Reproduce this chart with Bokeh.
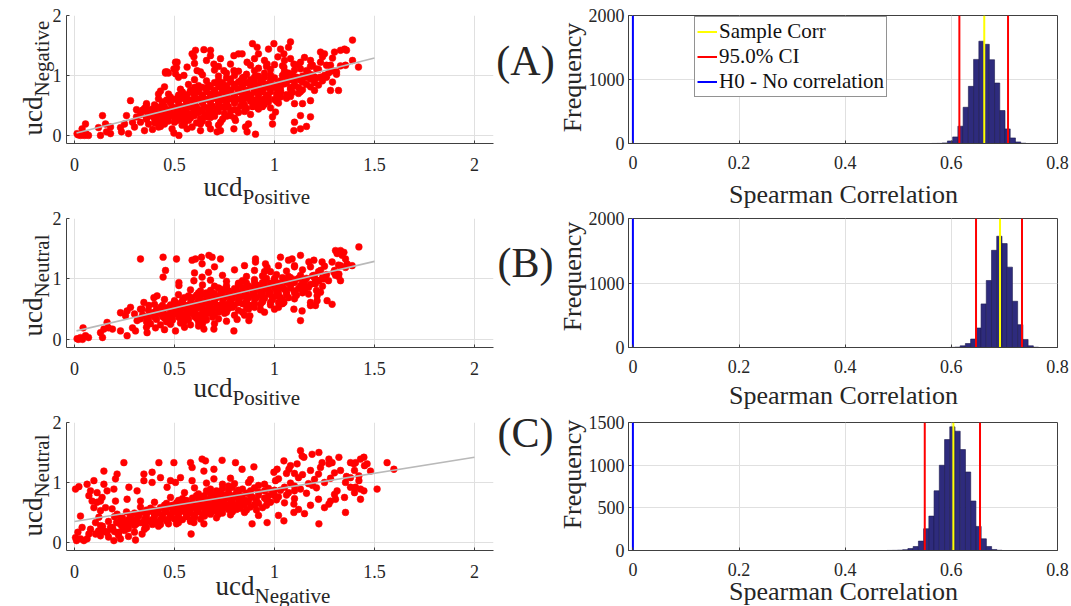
from math import pi
from bokeh.plotting import figure
from bokeh.layouts import column, row
from bokeh.models import (Range1d, FixedTicker, CustomJSTickFormatter, Label,
                          Legend, LegendItem)
from bokeh.embed import file_html
from bokeh.resources import INLINE

# ---------------- data ----------------
# Panel A: ucd_Positive (x) vs ucd_Negative (y)
A_edge_pts = [
    (0.017,0.01),(0.038,0.11),(0.055,0.19),(0.07,0.0),(0.05,0.0),(0.013,0.03),(0.03,0.0),(0.06,0.02),
    (0.12,0.13),(0.14,0.33),(0.13,0.0),(0.155,0.19),(0.16,0.06),(0.18,0.03),(0.18,0.14),(0.23,0.13),
    (0.235,0.06),(0.25,0.19),(0.26,0.33),(0.27,0.03),(0.28,0.58),(0.29,0.22),(0.30,0.14),(0.31,0.31),
    (0.33,0.22),(0.34,0.42),(0.35,0.08),(0.36,0.29),(0.36,0.5),(0.37,0.19),(0.38,0.42),(0.39,0.10),
    (0.40,0.28),(0.41,0.47),(0.42,0.14),(0.42,0.69),(0.43,0.74),(0.44,0.25),(0.45,0.81),(0.455,1.06),
    (0.47,1.04),(0.505,1.22),(0.51,1.13),(0.52,0.97),
    (1.39,1.59),(1.35,1.44),(1.36,1.42),(1.33,1.42),(1.30,1.39),(1.29,1.29),(1.25,1.36),(1.24,1.31),
    (1.23,1.39),(1.42,1.14),(1.39,1.25),(1.355,1.17),(1.31,1.06),(1.32,0.75),(1.28,0.75),(1.29,0.89),
    (1.26,0.97),(1.2,0.97),(1.21,1.11),(1.2,0.75),(1.18,0.58),(1.18,0.31),(1.16,0.15),(1.13,0.11),
    (1.097,0.08),(1.13,0.33),(1.14,0.53),(1.1,0.53),(1.1,0.22),(1.08,1.56),(1.07,1.47),(1.047,1.36),
    (1.03,1.44),(1.017,1.31),(0.997,1.53),(0.97,1.44),(0.963,1.19),(1.013,0.78),(1.005,0.39),(0.99,0.31),
    (0.99,0.19),(0.947,0.53),(0.93,0.58),(0.913,0.47),(0.905,0.02),(0.87,0.19),(0.863,0.06),(0.855,0.14),
    (0.797,0.11),(0.805,0.25),(0.813,0.42),(0.78,0.33),(0.73,0.08),(0.713,0.06),(0.72,0.17),(0.68,0.11),
    (0.663,0.31),(0.63,0.08),(0.63,0.19),(0.588,0.14),(0.563,0.11),(0.522,0.0),(0.497,0.04),(0.488,0.11),
    (0.538,0.17),(0.513,0.25),(0.463,0.25),(0.43,0.15),(0.413,0.22),
    (0.89,1.53),(0.913,1.47),(0.92,1.36),(0.9,1.28),(0.863,1.22),(0.838,1.36),(0.82,1.36),(0.797,1.33),
    (0.78,1.19),(0.73,1.28),(0.697,1.19),(0.68,1.42),(0.68,1.33),(0.647,1.43),(0.588,1.36),(0.605,1.42),
    (0.597,1.31),(0.613,1.08),(0.563,1.14),(0.513,1.22),(0.497,1.11),(0.463,1.06),(0.455,1.04),(0.505,1.03),
    (0.547,1.0),(0.63,1.06),(0.747,1.08),(0.797,1.08),(0.847,0.97),(1.047,1.14),(1.097,1.19),(1.13,1.22),
    (1.08,1.28),(1.13,1.11),(1.18,1.25),(1.19,1.17),(1.23,1.22),(1.28,1.17),(1.29,1.08),(1.23,0.97),
    (1.15,1.30),(1.05,1.25),(0.95,1.25),(1.0,1.18),(0.92,1.12),(0.72,1.15),(0.60,1.20),(0.66,1.25),
]
A_core_pts = [
    (0.40,0.21),(0.45,0.19),(0.50,0.22),(0.55,0.20),(0.61,0.21),(0.67,0.19),(0.73,0.22),
    (0.36,0.27),(0.41,0.29),(0.46,0.28),(0.50,0.30),(0.54,0.27),(0.58,0.29),(0.63,0.28),(0.68,0.30),(0.74,0.27),(0.80,0.29),
    (0.33,0.35),(0.38,0.37),(0.42,0.36),(0.46,0.38),(0.50,0.35),(0.54,0.37),(0.58,0.36),(0.62,0.38),(0.66,0.35),
    (0.70,0.37),(0.75,0.36),(0.82,0.38),(0.88,0.35),
    (0.31,0.43),(0.35,0.45),(0.39,0.44),(0.43,0.46),(0.47,0.43),(0.51,0.45),(0.55,0.44),(0.59,0.46),(0.63,0.43),
    (0.67,0.45),(0.71,0.44),(0.75,0.46),(0.80,0.43),(0.86,0.45),(0.92,0.44),(0.98,0.46),
    (0.36,0.53),(0.40,0.51),(0.44,0.52),(0.48,0.54),(0.52,0.51),(0.56,0.53),(0.60,0.52),(0.64,0.54),(0.68,0.51),
    (0.72,0.53),(0.76,0.52),(0.80,0.54),(0.85,0.51),(0.90,0.53),(0.95,0.52),(1.02,0.54),
    (0.42,0.61),(0.46,0.59),(0.50,0.60),(0.54,0.62),(0.58,0.59),(0.62,0.61),(0.66,0.60),(0.70,0.62),(0.74,0.59),
    (0.78,0.61),(0.82,0.60),(0.86,0.62),(0.90,0.59),(0.95,0.61),(1.00,0.60),(1.06,0.62),
    (0.47,0.69),(0.52,0.67),(0.56,0.68),(0.60,0.70),(0.64,0.67),(0.68,0.69),(0.72,0.68),(0.76,0.70),(0.80,0.67),
    (0.84,0.69),(0.88,0.68),(0.92,0.70),(0.96,0.67),(1.01,0.69),(1.06,0.68),(1.12,0.70),
    (0.53,0.77),(0.58,0.75),(0.62,0.76),(0.66,0.78),(0.70,0.75),(0.74,0.77),(0.78,0.76),(0.82,0.78),(0.86,0.75),
    (0.90,0.77),(0.94,0.76),(0.98,0.78),(1.03,0.75),(1.08,0.77),(1.14,0.76),
    (0.57,0.85),(0.62,0.83),(0.67,0.84),(0.72,0.86),(0.76,0.83),(0.80,0.85),(0.84,0.84),(0.88,0.86),(0.92,0.83),
    (0.96,0.85),(1.00,0.84),(1.05,0.86),(1.10,0.83),(1.16,0.85),(1.22,0.84),
    (0.60,0.93),(0.66,0.91),(0.72,0.92),(0.78,0.94),(0.83,0.91),(0.88,0.93),(0.93,0.92),(0.98,0.94),(1.03,0.91),
    (1.08,0.93),(1.13,0.92),(1.18,0.94),(1.24,0.91),
    (0.64,1.01),(0.72,0.99),(0.80,1.00),(0.86,1.02),(0.92,0.99),(0.98,1.01),(1.04,1.00),(1.09,1.02),(1.14,0.99),
    (1.19,1.01),(1.25,1.00),(1.31,1.02),
    (0.70,1.09),(0.82,1.07),(0.90,1.08),(0.98,1.10),(1.05,1.07),(1.10,1.09),(1.16,1.08),(1.22,1.10),(1.28,1.07),
    (0.88,1.17),(0.96,1.15),(1.04,1.16),(1.12,1.18),(1.18,1.15),(1.26,1.17),(1.33,1.16),
]
A_core2_pts = [
    (0.44,0.32),(0.52,0.31),(0.60,0.33),(0.70,0.32),
    (0.40,0.40),(0.48,0.41),(0.56,0.40),(0.64,0.41),(0.72,0.40),(0.78,0.41),
    (0.45,0.48),(0.53,0.49),(0.61,0.48),(0.69,0.49),(0.77,0.48),(0.83,0.49),(0.89,0.48),
    (0.48,0.56),(0.56,0.57),(0.64,0.56),(0.72,0.57),(0.80,0.56),(0.88,0.57),(0.97,0.56),
    (0.52,0.64),(0.60,0.65),(0.68,0.64),(0.76,0.65),(0.84,0.64),(0.92,0.65),(1.03,0.64),
    (0.58,0.72),(0.66,0.73),(0.74,0.72),(0.82,0.73),(0.90,0.72),(0.98,0.73),(1.09,0.72),
    (0.64,0.80),(0.72,0.81),(0.80,0.80),(0.88,0.81),(0.96,0.80),(1.03,0.81),(1.12,0.80),
    (0.74,0.88),(0.82,0.89),(0.90,0.88),(0.98,0.89),(1.06,0.88),(1.14,0.89),
    (0.84,0.96),(0.95,0.97),(1.06,0.96),(1.16,0.97),
]
A_core3_pts = [
    (0.47,0.24),(0.57,0.25),(0.64,0.24),
    (0.39,0.32),(0.48,0.33),(0.56,0.32),(0.65,0.33),(0.76,0.32),
    (0.36,0.40),(0.44,0.39),(0.52,0.40),(0.60,0.39),(0.68,0.40),(0.85,0.40),
    (0.41,0.48),(0.49,0.47),(0.57,0.48),(0.65,0.47),(0.73,0.48),(0.94,0.48),
    (0.44,0.56),(0.52,0.57),(0.60,0.56),(0.68,0.57),(0.76,0.56),(0.84,0.57),(0.92,0.56),(1.01,0.57),
    (0.48,0.64),(0.56,0.65),(0.64,0.64),(0.72,0.65),(0.80,0.64),(0.88,0.65),(0.97,0.64),(1.08,0.65),
    (0.54,0.72),(0.62,0.73),(0.70,0.72),(0.78,0.73),(0.86,0.72),(0.94,0.73),(1.03,0.72),(1.13,0.73),
    (0.60,0.80),(0.68,0.81),(0.76,0.80),(0.84,0.81),(0.92,0.80),(1.00,0.81),(1.08,0.80),(1.18,0.81),
    (0.70,0.88),(0.78,0.89),(0.86,0.88),(0.94,0.89),(1.02,0.88),(1.10,0.89),(1.20,0.88),
    (0.76,0.96),(0.90,0.97),(1.00,0.96),(1.11,0.97),(1.21,0.96),
    (0.76,1.04),(0.95,1.04),(1.07,1.04),(1.17,1.04),(1.27,1.04),
]
A_fit_x = [0.01, 1.5]
A_fit_y = [0.04, 1.29]

# Panel B: ucd_Positive (x) vs ucd_Neutral (y)
B_edge_pts = [
    (0.013,0.01),(0.03,0.03),(0.043,0.19),(0.055,0.06),(0.07,0.03),(0.04,0.0),(0.02,0.0),(0.13,0.11),
    (0.14,0.03),(0.147,0.17),(0.163,0.28),(0.17,0.19),(0.19,0.17),(0.23,0.14),(0.23,0.44),(0.255,0.39),
    (0.263,0.06),(0.263,0.47),(0.29,0.19),(0.28,0.53),(0.305,0.14),(0.313,0.31),(0.33,1.33),(0.338,0.5),
    (0.363,0.11),(0.347,0.61),(0.372,0.56),(0.397,0.69),(0.405,0.19),(0.413,0.72),(0.443,1.36),(0.443,1.03),
    (0.455,1.14),(0.505,0.14),(0.51,1.33),(0.522,0.94),(0.522,0.89),(0.538,0.28),(0.588,1.31),(0.605,1.33),
    (0.597,0.97),(0.635,1.36),(0.638,1.25),(0.647,0.17),(0.672,1.39),(0.688,1.36),(0.697,0.17),(0.73,1.33),
    (0.638,1.03),(0.67,1.11),(0.797,0.14),(0.813,0.33),(0.872,0.31),(0.877,0.39),(0.905,1.33),(0.905,1.28),
    (0.955,1.25),(0.963,1.19),(1.03,1.36),(1.07,1.31),(1.088,1.33),(1.13,1.39),(1.13,0.31),(1.138,0.47),
    (1.097,0.5),(1.02,0.53),(1.047,0.61),(1.18,0.56),(1.18,0.61),(1.213,0.72),(1.213,0.64),(1.205,0.56),
    (1.247,1.0),(1.263,0.64),(1.288,0.58),(1.33,0.97),(1.322,1.08),(1.305,1.06),(1.297,1.11),(1.288,1.28),
    (1.313,1.42),(1.305,1.47),(1.33,1.47),(1.347,1.44),(1.338,1.39),(1.355,1.33),(1.388,1.22),(1.355,1.19),
    (1.422,1.53),(1.363,1.25),(1.33,1.22),(1.238,1.28),(1.197,1.31),(1.172,1.28),(1.23,1.14),(1.197,1.06),
    (1.205,0.92),(1.222,0.97),(1.147,0.92),(1.138,0.86),(1.23,0.78),
    (0.36,0.20),(0.45,0.16),(0.55,0.20),(0.62,0.22),(0.70,0.26),(0.76,0.30),(0.85,0.40),(0.95,0.45),
    (1.00,0.50),(0.60,1.10),(0.70,1.20),(0.80,1.15),(0.85,1.22),(0.95,1.12),(1.02,1.22),(1.10,1.20),
]
B_core_pts = [
    (0.38,0.26),(0.43,0.24),(0.48,0.25),(0.53,0.27),(0.58,0.24),(0.64,0.26),
    (0.33,0.34),(0.37,0.32),(0.41,0.33),(0.45,0.35),(0.49,0.32),(0.53,0.34),(0.57,0.33),(0.61,0.35),(0.66,0.32),(0.72,0.34),
    (0.30,0.42),(0.34,0.40),(0.38,0.41),(0.42,0.43),(0.46,0.40),(0.50,0.42),(0.54,0.41),(0.58,0.43),(0.62,0.40),
    (0.66,0.42),(0.70,0.41),(0.75,0.43),(0.80,0.40),
    (0.33,0.50),(0.37,0.48),(0.41,0.49),(0.45,0.51),(0.49,0.48),(0.53,0.50),(0.57,0.49),(0.61,0.51),(0.65,0.48),
    (0.69,0.50),(0.73,0.49),(0.77,0.51),(0.82,0.48),(0.87,0.50),(0.93,0.49),
    (0.40,0.58),(0.44,0.56),(0.48,0.57),(0.52,0.59),(0.56,0.56),(0.60,0.58),(0.64,0.57),(0.68,0.59),(0.72,0.56),
    (0.76,0.58),(0.80,0.57),(0.84,0.59),(0.88,0.56),(0.93,0.58),(0.98,0.57),(1.04,0.59),
    (0.45,0.66),(0.50,0.64),(0.54,0.65),(0.58,0.67),(0.62,0.64),(0.66,0.66),(0.70,0.65),(0.74,0.67),(0.78,0.64),
    (0.82,0.66),(0.86,0.65),(0.90,0.67),(0.94,0.64),(0.99,0.66),(1.04,0.65),(1.10,0.67),
    (0.52,0.74),(0.57,0.72),(0.61,0.73),(0.65,0.75),(0.69,0.72),(0.73,0.74),(0.77,0.73),(0.81,0.75),(0.85,0.72),
    (0.89,0.74),(0.93,0.73),(0.97,0.75),(1.01,0.72),(1.06,0.74),(1.11,0.73),(1.17,0.75),
    (0.58,0.82),(0.63,0.80),(0.68,0.81),(0.73,0.83),(0.77,0.80),(0.81,0.82),(0.85,0.81),(0.89,0.83),(0.93,0.80),
    (0.97,0.82),(1.01,0.81),(1.05,0.83),(1.10,0.80),(1.15,0.82),(1.21,0.81),
    (0.64,0.90),(0.70,0.88),(0.76,0.89),(0.82,0.91),(0.87,0.88),(0.91,0.90),(0.95,0.89),(0.99,0.91),(1.03,0.88),
    (1.08,0.90),(1.13,0.89),(1.18,0.91),(1.24,0.88),
    (0.68,0.98),(0.76,0.96),(0.84,0.97),(0.90,0.99),(0.95,0.96),(1.00,0.98),(1.05,0.97),(1.10,0.99),(1.15,0.96),
    (1.21,0.98),(1.27,0.97),
    (0.74,1.06),(0.86,1.04),(0.94,1.05),(1.01,1.07),(1.07,1.04),(1.13,1.06),(1.19,1.05),(1.26,1.07),(1.32,1.04),
    (0.90,1.14),(0.98,1.12),(1.06,1.13),(1.14,1.15),(1.22,1.12),(1.30,1.14),
    (1.10,1.22),(1.18,1.20),(1.25,1.21),(1.32,1.23),
]
B_core2_pts = [
    (0.40,0.37),(0.48,0.36),(0.56,0.37),(0.64,0.36),
    (0.44,0.45),(0.52,0.44),(0.60,0.45),(0.68,0.44),(0.76,0.45),
    (0.47,0.53),(0.55,0.52),(0.63,0.53),(0.71,0.52),(0.79,0.53),(0.86,0.52),
    (0.50,0.61),(0.58,0.60),(0.66,0.61),(0.74,0.60),(0.82,0.61),(0.90,0.60),(0.98,0.61),
    (0.55,0.69),(0.63,0.68),(0.71,0.69),(0.79,0.68),(0.87,0.69),(0.95,0.68),(1.03,0.69),
    (0.62,0.77),(0.70,0.76),(0.78,0.77),(0.86,0.76),(0.94,0.77),(1.02,0.76),(1.10,0.77),
    (0.72,0.85),(0.80,0.84),(0.88,0.85),(0.96,0.84),(1.04,0.85),(1.12,0.84),
    (0.82,0.93),(0.90,0.94),(0.98,0.93),(1.06,0.94),(1.14,0.93),
    (0.96,1.01),(1.04,1.02),(1.12,1.01),(1.20,1.02),
]
B_core3_pts = [
    (0.36,0.29),(0.46,0.29),(0.55,0.30),(0.62,0.29),
    (0.36,0.37),(0.44,0.38),(0.52,0.37),(0.60,0.38),(0.69,0.37),
    (0.40,0.45),(0.48,0.46),(0.56,0.45),(0.64,0.46),(0.72,0.45),(0.84,0.45),
    (0.43,0.53),(0.51,0.54),(0.59,0.53),(0.67,0.54),(0.75,0.53),(0.90,0.53),
    (0.54,0.61),(0.62,0.62),(0.70,0.61),(0.78,0.62),(0.86,0.61),(0.94,0.62),(1.02,0.61),
    (0.59,0.69),(0.67,0.70),(0.75,0.69),(0.83,0.70),(0.91,0.69),(0.99,0.70),(1.07,0.69),
    (0.66,0.77),(0.74,0.78),(0.82,0.77),(0.90,0.78),(0.98,0.77),(1.06,0.78),(1.14,0.77),
    (0.76,0.85),(0.84,0.86),(0.92,0.85),(1.00,0.86),(1.08,0.85),(1.17,0.86),
    (0.86,0.93),(0.94,0.94),(1.02,0.93),(1.10,0.94),(1.20,0.93),
    (1.00,1.01),(1.08,1.02),(1.16,1.01),(1.24,1.02),
]
B_fit_x = [0.01, 1.5]
B_fit_y = [0.14, 1.29]

# Panel C: ucd_Negative (x) vs ucd_Neutral (y)
C_edge_pts = [
    (0.005,0.89),(0.022,0.93),(0.01,0.03),(0.03,0.06),(0.017,0.17),(0.005,0.08),(0.047,0.03),(0.063,0.06),
    (0.072,0.14),(0.038,0.25),(0.03,0.44),(0.063,0.97),(0.08,0.86),(0.072,0.78),(0.088,0.69),(0.097,1.03),
    (0.113,0.83),(0.097,0.58),(0.113,0.67),(0.13,0.69),(0.13,0.53),(0.147,0.97),(0.147,1.19),(0.138,0.75),
    (0.155,0.58),(0.163,0.86),(0.122,0.42),(0.13,0.28),(0.147,0.19),(0.105,0.14),(0.08,0.22),(0.105,0.33),
    (0.163,0.17),(0.18,0.25),(0.197,0.03),(0.205,1.06),(0.213,1.14),(0.197,0.89),(0.205,0.69),(0.188,0.56),
    (0.213,0.47),(0.23,0.06),(0.222,0.17),(0.238,0.28),(0.255,0.22),(0.247,1.33),(0.272,0.92),(0.263,0.72),
    (0.305,0.04),(0.313,0.86),(0.33,0.69),(0.338,0.14),(0.347,1.14),(0.347,1.03),(0.388,1.17),(0.388,1.0),
    (0.422,1.33),(0.43,1.08),(0.463,0.92),(0.48,1.03),(0.497,1.33),(0.505,1.0),(0.53,1.08),(0.58,1.33),
    (0.588,1.25),(0.583,0.14),(0.588,1.03),(0.597,0.33),(0.638,1.39),(0.655,1.36),(0.647,0.31),(0.647,1.19),
    (0.697,1.22),(0.738,1.37),(0.697,1.06),(0.805,1.33),(0.838,1.22),(0.888,0.31),(0.963,0.33),(0.897,1.26),
    (0.997,1.17),(1.013,1.22),(1.047,1.36),(1.005,1.03),(1.047,0.36),(1.097,0.5),(1.097,0.64),(1.072,1.22),
    (1.08,1.28),(1.113,1.31),(1.13,1.53),(1.138,1.44),(1.147,1.42),(1.188,1.47),(1.222,1.5),(1.222,0.31),
    (1.23,1.25),(1.238,1.33),(1.272,1.39),(1.272,1.31),(1.288,1.33),(1.322,1.42),(1.272,0.64),(1.28,0.69),
    (1.305,0.72),(1.313,0.86),(1.355,0.5),(1.355,1.0),(1.38,1.33),(1.397,1.31),(1.405,1.33),(1.43,1.39),
    (1.447,1.42),(1.463,1.31),(1.48,1.19),(1.422,1.11),(1.405,0.92),(1.43,0.89),(1.447,0.86),(1.43,0.72),
    (1.513,0.89),(1.563,1.33),(1.597,1.22),(1.422,1.03),(1.38,0.92),(1.38,1.08),
    (1.12,0.55),(1.18,0.62),(1.25,0.58),(1.30,0.80),(1.35,0.75),(1.40,0.83),(1.15,0.48),(1.02,0.45),
    (0.92,0.45),(1.22,0.72),(1.33,1.20),(1.40,1.20),(1.45,1.28),(1.36,1.10),(1.10,1.15),(1.18,1.20),
]
C_core_pts = [
    (0.13,0.11),(0.17,0.09),(0.22,0.12),(0.27,0.10),
    (0.12,0.19),(0.16,0.17),(0.20,0.18),(0.25,0.20),(0.30,0.17),
    (0.14,0.27),(0.19,0.25),(0.24,0.26),(0.30,0.28),(0.36,0.25),(0.42,0.27),
    (0.17,0.35),(0.21,0.33),(0.25,0.34),(0.29,0.36),(0.33,0.33),(0.37,0.35),(0.41,0.34),(0.46,0.36),(0.52,0.33),(0.58,0.35),
    (0.20,0.43),(0.24,0.41),(0.28,0.42),(0.32,0.44),(0.36,0.41),(0.40,0.43),(0.44,0.42),(0.48,0.44),(0.52,0.41),
    (0.56,0.43),(0.60,0.42),(0.65,0.44),(0.71,0.41),
    (0.26,0.51),(0.30,0.49),(0.34,0.50),(0.38,0.52),(0.42,0.49),(0.46,0.51),(0.50,0.50),(0.54,0.52),(0.58,0.49),
    (0.62,0.51),(0.66,0.50),(0.70,0.52),(0.74,0.49),(0.79,0.51),(0.85,0.50),
    (0.33,0.59),(0.38,0.57),(0.43,0.58),(0.47,0.60),(0.51,0.57),(0.55,0.59),(0.59,0.58),(0.63,0.60),(0.67,0.57),
    (0.71,0.59),(0.75,0.58),(0.79,0.60),(0.83,0.57),(0.88,0.59),(0.94,0.58),
    (0.40,0.67),(0.46,0.65),(0.51,0.66),(0.55,0.68),(0.59,0.65),(0.63,0.67),(0.67,0.66),(0.71,0.68),(0.75,0.65),
    (0.79,0.67),(0.83,0.66),(0.87,0.68),(0.92,0.65),(0.98,0.67),(1.05,0.66),
    (0.48,0.75),(0.54,0.73),(0.59,0.74),(0.64,0.76),(0.68,0.73),(0.72,0.75),(0.76,0.74),(0.80,0.76),(0.84,0.73),
    (0.89,0.75),(0.95,0.74),(1.02,0.76),(1.10,0.73),
    (0.55,0.83),(0.62,0.81),(0.68,0.82),(0.73,0.84),(0.77,0.81),(0.81,0.83),(0.86,0.82),(0.92,0.84),(0.99,0.81),
    (1.07,0.83),(1.16,0.82),
    (0.60,0.91),(0.68,0.89),(0.74,0.90),(0.79,0.92),(0.84,0.89),(0.90,0.91),(0.97,0.90),(1.05,0.92),(1.13,0.89),(1.21,0.91),
    (0.66,0.99),(0.74,0.97),(0.80,0.98),(0.87,1.00),(0.95,0.97),(1.08,0.99),(1.17,0.98),(1.25,1.00),
    (0.78,1.07),(0.88,1.05),(1.02,1.06),(1.12,1.08),(1.20,1.05),(1.28,1.07),
    (1.06,1.15),(1.14,1.13),(1.22,1.14),(1.30,1.16),
]
C_core2_pts = [
    (0.23,0.30),(0.31,0.31),(0.39,0.30),(0.47,0.31),
    (0.27,0.38),(0.35,0.39),(0.43,0.38),(0.50,0.39),(0.58,0.38),
    (0.32,0.46),(0.40,0.47),(0.48,0.46),(0.56,0.47),(0.64,0.46),(0.72,0.47),
    (0.36,0.54),(0.45,0.55),(0.53,0.54),(0.61,0.55),(0.69,0.54),(0.77,0.55),(0.86,0.54),
    (0.49,0.62),(0.57,0.63),(0.65,0.62),(0.73,0.63),(0.81,0.62),(0.90,0.63),
    (0.56,0.70),(0.62,0.71),(0.70,0.70),(0.78,0.71),(0.86,0.70),(0.96,0.71),
    (0.65,0.78),(0.75,0.79),(0.83,0.78),(0.92,0.79),(1.00,0.78),
    (0.71,0.86),(0.82,0.87),(0.95,0.86),(1.03,0.87),
]
C_core3_pts = [
    (0.19,0.22),(0.27,0.23),(0.35,0.22),
    (0.27,0.30),(0.35,0.31),(0.43,0.30),(0.51,0.31),
    (0.23,0.38),(0.31,0.39),(0.39,0.38),(0.47,0.39),(0.54,0.38),(0.63,0.39),
    (0.28,0.46),(0.36,0.47),(0.44,0.46),(0.52,0.47),(0.60,0.46),(0.68,0.47),(0.78,0.46),
    (0.40,0.54),(0.49,0.55),(0.57,0.54),(0.65,0.55),(0.73,0.54),(0.81,0.55),(0.91,0.54),
    (0.45,0.62),(0.53,0.63),(0.61,0.62),(0.69,0.63),(0.77,0.62),(0.85,0.63),(0.96,0.62),
    (0.52,0.70),(0.66,0.71),(0.74,0.70),(0.82,0.71),(0.91,0.70),(1.01,0.71),
    (0.61,0.78),(0.70,0.79),(0.79,0.78),(0.88,0.79),(0.97,0.78),(1.06,0.79),
    (0.66,0.86),(0.77,0.87),(0.88,0.86),(1.00,0.87),(1.10,0.86),
    (0.77,0.94),(0.92,0.95),(1.10,0.94),(1.19,0.95),
]
C_fit_x = [0.0, 2.0]
C_fit_y = [0.35, 1.42]

# Bootstrap histograms of the Spearman correlation
A_bin_edges = [0.5630, 0.5729, 0.5828, 0.5926, 0.6025, 0.6123, 0.6222, 0.6321, 0.6419, 0.6518,
               0.6616, 0.6715, 0.6814, 0.6912, 0.7011, 0.7109, 0.7208, 0.7307, 0.7405]
A_counts = [1, 2, 9, 40, 103, 270, 566, 893, 1314, 1598, 1550, 1309, 945, 515, 228, 87, 25, 5]
A_corr, A_ci = 0.662, (0.6151, 0.7068)

B_bin_edges = [0.5969, 0.6067, 0.6166, 0.6264, 0.6363, 0.6461, 0.6560, 0.6658, 0.6757, 0.6855,
               0.6954, 0.7052, 0.7151, 0.7249, 0.7348, 0.7446, 0.7545, 0.7643]
B_counts = [2, 6, 26, 62, 131, 302, 676, 1039, 1507, 1725, 1611, 1246, 717, 354, 125, 26, 5]
B_corr, B_ci = 0.6917, (0.6465, 0.7331)

C_bin_edges = [0.4787, 0.4886, 0.4984, 0.5083, 0.5181, 0.5280, 0.5379, 0.5477, 0.5576, 0.5674,
               0.5773, 0.5872, 0.5970, 0.6069, 0.6167, 0.6266, 0.6365, 0.6463, 0.6562, 0.6660,
               0.6759, 0.6857, 0.6956]
C_counts = [1, 2, 4, 10, 23, 47, 110, 255, 403, 700, 999, 1300, 1449, 1398, 1183, 920, 580, 282,
            137, 47, 12, 3]
C_corr, C_ci = 0.6038, (0.5499, 0.654)

H0_value = 0.0
legend_labels = ["Sample Corr", "95.0% CI", "H0 - No correlation"]
panel_tags = ["(A)", "(B)", "(C)"]
x_subs = ["Positive", "Positive", "Negative"]
y_subs = ["Negative", "Neutral", "Neutral"]

# ---------------- styling ----------------
FONT = "Liberation Serif"
TXT = "#262626"
AX = "#404040"
GRID = "#e0e0e0"
BAR = "#2e2b7d"

ROWS = [dict(h=208, t=15, b=65), dict(h=204, t=10, b=65), dict(h=194, t=10, b=56)]
LEFT_W, LEFT_L, LEFT_R = 556, 66, 63
RIGHT_W, RIGHT_L, RIGHT_R = 515, 72, 14

fmt_code = "return tick.toString();"


def style_axes(p, xt, yt, xstand, ystand):
    for ax in (p.xaxis[0], p.yaxis[0]):
        ax.axis_line_color = AX
        ax.axis_line_width = 1
        ax.major_tick_line_color = AX
        ax.major_tick_in = 3
        ax.major_tick_out = 0
        ax.minor_tick_line_color = None
        ax.major_label_text_font = FONT
        ax.major_label_text_font_size = "18px"
        ax.major_label_text_color = TXT
        ax.formatter = CustomJSTickFormatter(code=fmt_code)
    p.xaxis.ticker = FixedTicker(ticks=xt)
    p.yaxis.ticker = FixedTicker(ticks=yt)
    p.xaxis.major_label_standoff = xstand
    p.yaxis.major_label_standoff = ystand
    p.xgrid.grid_line_color = GRID
    p.ygrid.grid_line_color = GRID


def scatter_panel(pts, fit_x, fit_y, geo):
    p = figure(width=LEFT_W, height=geo["h"], x_range=Range1d(-0.04, 2.095),
               y_range=Range1d(-0.135, 2.0), min_border_left=LEFT_L, min_border_right=LEFT_R,
               min_border_top=geo["t"], min_border_bottom=geo["b"], toolbar_location=None,
               output_backend="svg", outline_line_color=None,
               background_fill_color="white", border_fill_color="white")
    xs = [a for a, b in pts]
    ys = [b for a, b in pts]
    p.scatter(xs, ys, size=6.8, fill_color="#ff0000", line_color="#ff0000", line_width=0.5)
    p.line(fit_x, fit_y, line_color="#b9b9b9", line_width=1.6)
    style_axes(p, [0, 0.5, 1, 1.5, 2], [0, 1, 2], 14, 5)
    return p


def hist_panel(edges, counts, corr, ci, ymax, yt, geo, with_legend):
    p = figure(width=RIGHT_W, height=geo["h"], x_range=Range1d(-0.0083, 0.8),
               y_range=Range1d(0, ymax), min_border_left=RIGHT_L, min_border_right=RIGHT_R,
               min_border_top=geo["t"], min_border_bottom=geo["b"], toolbar_location=None,
               output_backend="svg", outline_line_color=AX, outline_line_width=1,
               background_fill_color="white", border_fill_color="white")
    p.quad(left=edges[:-1], right=edges[1:], bottom=0, top=counts,
           fill_color=BAR, line_color="#1b1a4d", line_width=0.6)
    r_s = p.line([corr, corr], [0, ymax], line_color="#ffff00", line_width=2)
    r_lo = p.line([ci[0], ci[0]], [0, ymax], line_color="#ff0000", line_width=2)
    p.line([ci[1], ci[1]], [0, ymax], line_color="#ff0000", line_width=2)
    r_h = p.line([H0_value, H0_value], [0, ymax], line_color="#0000ff", line_width=2)
    style_axes(p, [0, 0.2, 0.4, 0.6, 0.8], yt, 12, 4)
    if with_legend:
        leg = Legend(items=[LegendItem(label=legend_labels[0], renderers=[r_s]),
                            LegendItem(label=legend_labels[1], renderers=[r_lo]),
                            LegendItem(label=legend_labels[2], renderers=[r_h])],
                     location=(66, 46), label_text_font=FONT, label_text_font_size="21px",
                     label_text_color="#111111", glyph_width=20, glyph_height=25,
                     label_height=25, label_standoff=2, spacing=0, padding=2, margin=0,
                     border_line_color="#262626", border_line_width=1,
                     background_fill_color="white", background_fill_alpha=1.0)
        p.add_layout(leg)
    return p


sA = scatter_panel(A_edge_pts + A_core_pts + A_core2_pts + A_core3_pts, A_fit_x, A_fit_y, ROWS[0])
sB = scatter_panel(B_edge_pts + B_core_pts + B_core2_pts + B_core3_pts, B_fit_x, B_fit_y, ROWS[1])
sC = scatter_panel(C_edge_pts + C_core_pts + C_core2_pts + C_core3_pts, C_fit_x, C_fit_y, ROWS[2])

hA = hist_panel(A_bin_edges, A_counts, A_corr, A_ci, 2000, [0, 1000, 2000], ROWS[0], True)
hB = hist_panel(B_bin_edges, B_counts, B_corr, B_ci, 2000, [0, 1000, 2000], ROWS[1], False)
hC = hist_panel(C_bin_edges, C_counts, C_corr, C_ci, 1500, [0, 500, 1000, 1500], ROWS[2], False)

# ---------------- text overlay (labels outside the plot frames) ----------------
ov = figure(width=1071, height=606, x_range=Range1d(0, 1071), y_range=Range1d(606, 0),
            min_border=0, toolbar_location=None, output_backend="svg",
            x_axis_location=None, y_axis_location=None, outline_line_color=None,
            background_fill_alpha=0, border_fill_alpha=0,
            styles={"position": "absolute", "left": "0px", "top": "0px"})
for g in ov.grid:
    g.visible = False


def put(text, x, y, size, angle=0.0, align="left", baseline="alphabetic"):
    ov.add_layout(Label(x=x, y=y, text=text, text_font=FONT, text_font_size=size,
                        text_color=TXT, angle=angle, text_align=align,
                        text_baseline=baseline))


# per-row anchor positions (page pixels)
ylab_start = [135, 336, 536]
xlab_pos = [(203, 186), (193, 387), (215, 585)]
tag_y = [60, 262, 432]
freq_y = [77, 276, 474]
spear_base = [194, 395, 591]

for i in range(3):
    put("ucd", 32, ylab_start[i], "27px", angle=pi / 2)
    put(y_subs[i], 41, ylab_start[i] - 39, "21px", angle=pi / 2)
    x0, yb = xlab_pos[i]
    put("ucd", x0, yb, "27px")
    put(x_subs[i], x0 + 39, yb + 10, "21px")
    put(panel_tags[i], 525, tag_y[i], "42px", align="center", baseline="middle")
    put("Frequency", 572, freq_y[i], "26px", angle=pi / 2, align="center", baseline="middle")
    put("Spearman Correlation", 843, spear_base[i], "26px", align="center")

layout = column(row(sA, hA), row(sB, hB), row(sC, hC), ov)

open("out.html", "w").write(file_html(layout, INLINE))
